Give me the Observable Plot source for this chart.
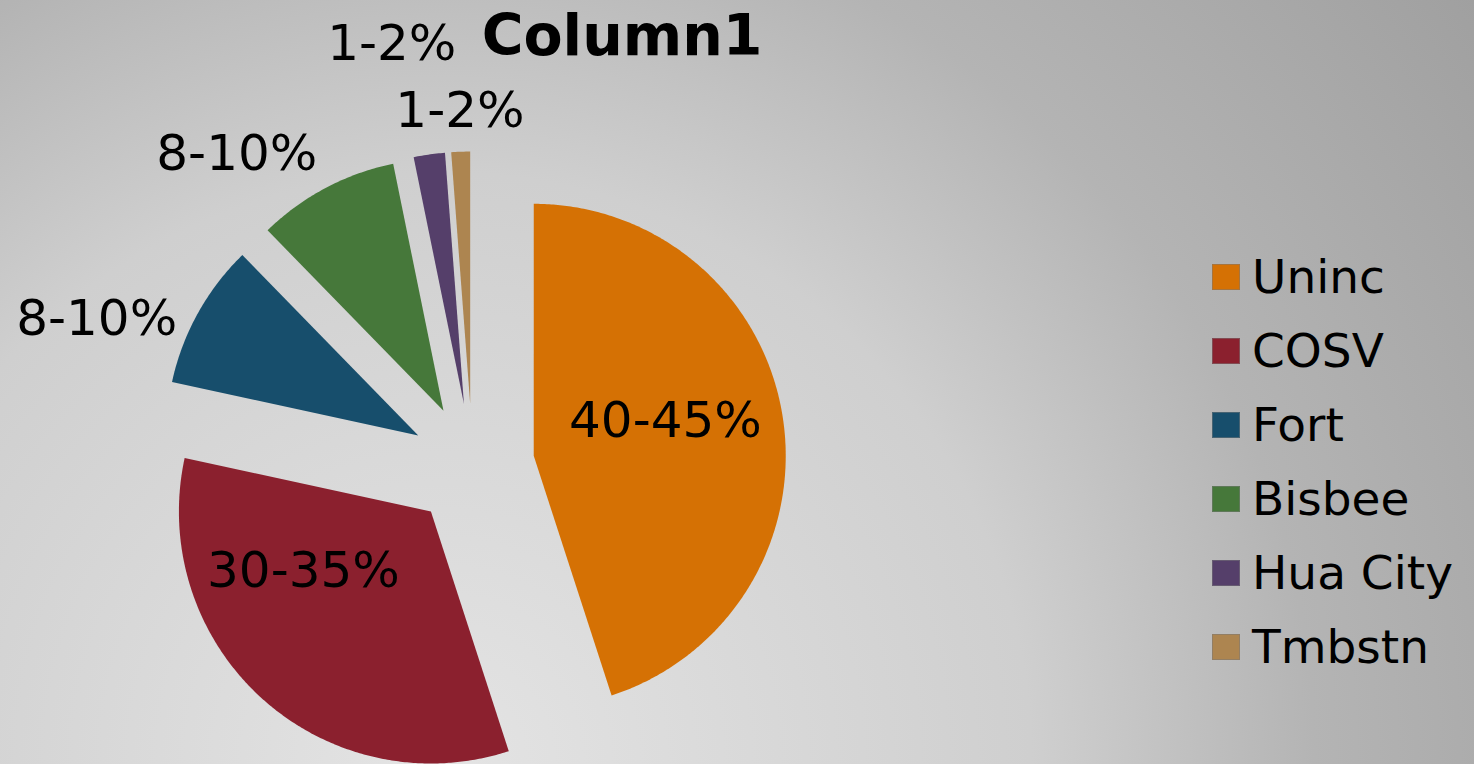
<!DOCTYPE html>
<html>
<head>
<meta charset="utf-8">
<script src="https://cdn.jsdelivr.net/npm/d3@7"></script>
<script src="https://cdn.jsdelivr.net/npm/@observablehq/plot@0.6"></script>
<style>
  html, body { margin: 0; padding: 0; }
  #wrap {
    position: relative; width: 1474px; height: 764px; overflow: hidden;
    background: radial-gradient(circle farthest-corner at 440px 764px, #e4e4e4 0%, #cfcfcf 46%, #b4b4b4 68%, #a0a0a0 100%);
    font-family: "DejaVu Sans", Verdana, sans-serif; color: #000;
  }
  #chart { position: absolute; left: 0; top: 0; }
  #title {
    position: absolute; left: 0; width: 1244px; top: 7px; text-align: center;
    font-size: 57px; font-weight: bold; line-height: 1; white-space: nowrap;
  }
  .row { position: absolute; left: 1212px; height: 60px; width: 260px; }
  .sw { position: absolute; left: 0; top: 11px; width: 28px; height: 26px; box-sizing: border-box; border: 1px solid rgba(120,120,120,0.5); }
  .lt { position: absolute; left: 40px; top: 0; font-size: 47px; line-height: 1; white-space: nowrap; }
</style>
</head>
<body>
<div id="wrap">
  <div id="chart"></div>
  <div id="title">Column1</div>
  <div id="legend"></div>
</div>
<script>
// ---- data ----
const categories = ["Uninc", "COSV", "Fort", "Bisbee", "Hua City", "Tmbstn"];
const shares = [45.0, 33.4, 9.3, 9.1, 2.0, 1.2];
const labels = ["40-45%", "30-35%", "8-10%", "8-10%", "1-2%", "1-2%"];
const colors = ["#d57104", "#8b202e", "#174e6c", "#46783a", "#553f6a", "#ad8550"];

// ---- layout (not data) ----
const explode = 0.246; // in radius units
const labelLayout = [
  {r: 0.541, da: -6}, {r: 0.559, da: 22.7}, {r: 1.358, da: -9},
  {r: 1.309, da: -10.9}, {r: 1.459, da: -3.4}, {r: 1.16, da: 0.15}
];

const slices = categories.map((name, i) => ({name, value: shares[i], label: labels[i]}));
const arcs = d3.pie().sort(null).value(d => d.value)(slices);
const rad = Math.PI / 180;
const polygon = [];
const labelPts = [];
arcs.forEach((a, i) => {
  const mid = (a.startAngle + a.endAngle) / 2;
  const ex = explode * Math.sin(mid), ey = explode * Math.cos(mid);
  const name = a.data.name;
  polygon.push({name, x: ex, y: ey});
  const n = Math.max(2, Math.ceil((a.endAngle - a.startAngle) / (0.5 * rad)));
  for (let k = 0; k <= n; k++) {
    const t = a.startAngle + (a.endAngle - a.startAngle) * k / n;
    polygon.push({name, x: ex + Math.sin(t), y: ey + Math.cos(t)});
  }
  const L = labelLayout[i];
  const la = mid + L.da * rad;
  labelPts.push({name, label: a.data.label, x: ex + L.r * Math.sin(la), y: ey + L.r * Math.cos(la)});
});

const chart = Plot.plot({
  width: 1474, height: 764, margin: 0,
  x: {domain: [-472 / 252, 1002 / 252], axis: null},
  y: {domain: [-299 / 252, 465 / 252], axis: null},
  color: {domain: categories, range: colors},
  style: {background: "transparent", fontFamily: "DejaVu Sans, Verdana, sans-serif", overflow: "visible"},
  marks: [
    Plot.line(polygon, {x: "x", y: "y", z: "name", fill: "name", stroke: "none", curve: "linear-closed"}),
    Plot.text(labelPts, {x: "x", y: "y", text: "label", fontSize: 50, fill: "black", lineAnchor: "middle"})
  ]
});
document.getElementById("chart").appendChild(chart);

// legend
const legend = document.getElementById("legend");
categories.forEach((c, i) => {
  const row = document.createElement("div");
  row.className = "row";
  row.style.top = (253 + i * 74) + "px";
  const sw = document.createElement("div");
  sw.className = "sw";
  sw.style.background = colors[i];
  const t = document.createElement("div");
  t.className = "lt";
  t.textContent = c;
  row.appendChild(sw); row.appendChild(t);
  legend.appendChild(row);
});
</script>
</body>
</html>
